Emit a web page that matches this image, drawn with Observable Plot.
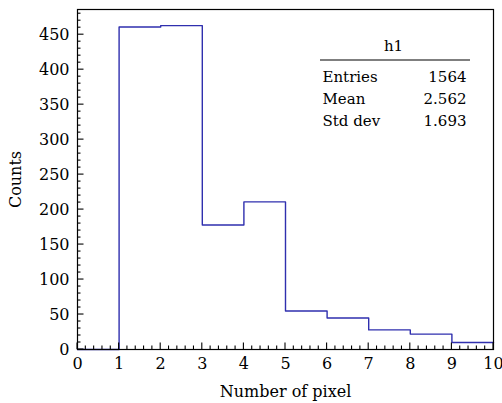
<!DOCTYPE html>
<html>
<head>
<meta charset="utf-8">
<script src="https://cdn.jsdelivr.net/npm/d3@7"></script>
<script src="https://cdn.jsdelivr.net/npm/@observablehq/plot@0.6"></script>
<style>
  html, body { margin: 0; padding: 0; background: #fff; }
  #chart svg { display: block; }
</style>
</head>
<body>
<div id="chart"></div>
<script>
const binEdges = [0, 1, 2, 3, 4, 5, 6, 7, 8, 9, 10];
const binCounts = [0, 461, 463, 178, 211, 55, 45, 28, 22, 10];
const xTicks = [0, 1, 2, 3, 4, 5, 6, 7, 8, 9, 10];
const yTicks = [0, 50, 100, 150, 200, 250, 300, 350, 400, 450];
const statTitle = "h1";
const statNames = ["Entries", "Mean", "Std dev"];
const statValues = ["1564", "2.562", "1.693"];

const stepData = binCounts.map((c, i) => ({x: binEdges[i], y: c}));
stepData.push({x: binEdges[binEdges.length - 1], y: binCounts[binCounts.length - 1]});

const xMinor = d3.range(0, 10.0001, 0.2).filter(v => Math.abs(v - Math.round(v)) > 1e-6);
const yMinor = d3.range(0, 481, 10).filter(v => v % 50 !== 0);
const font = "DejaVu Serif";
const blue = "#2f2fae";

const W = 502, H = 403, mL = 77, mR = 9, mT = 9, mB = 54;
const xDomain = [0, 10], yDomain = [0, 486];

function statMarks() {
  const marks = [];
  marks.push(Plot.text([statTitle], {frameAnchor: "top-right", dx: -100, dy: 37,
    textAnchor: "middle", lineAnchor: "middle", fontSize: 15}));
  statNames.forEach((n, i) => {
    marks.push(Plot.text([n], {frameAnchor: "top-right", dx: -171, dy: 68 + i * 21.7,
      textAnchor: "start", lineAnchor: "middle", fontSize: 15}));
    marks.push(Plot.text([statValues[i]], {frameAnchor: "top-right", dx: -27, dy: 68 + i * 21.7,
      textAnchor: "end", lineAnchor: "middle", fontSize: 15}));
  });
  return marks;
}

const plot = Plot.plot({
  width: W,
  height: H,
  marginLeft: mL,
  marginRight: mR,
  marginTop: mT,
  marginBottom: mB,
  style: {fontFamily: font, fontSize: "16px", background: "#fff"},
  x: {domain: xDomain},
  y: {domain: yDomain},
  marks: [
    Plot.axisX({ticks: xTicks, tickSize: 0, tickPadding: 8, tickFormat: d => String(d),
      label: "Number of pixel", labelAnchor: "center", labelArrow: "none", labelOffset: 47, fontSize: 16}),
    Plot.axisY({ticks: yTicks, tickSize: 0, tickPadding: 8, tickFormat: d => String(d),
      label: "Counts", labelAnchor: "center", labelArrow: "none", labelOffset: 68, fontSize: 16}),
    Plot.line(stepData, {x: "x", y: "y", curve: "step-after", stroke: blue, strokeWidth: 1.4}),
    Plot.frame({stroke: "#000", strokeWidth: 1.2}),
    ...statMarks()
  ]
});

document.getElementById("chart").appendChild(plot);
const svg = d3.select(plot);
const xs = plot.scale("x"), ys = plot.scale("y");
const x0 = xs.apply(xDomain[0]), y0 = ys.apply(yDomain[0]);
const tickG = svg.append("g").attr("stroke", "#000").attr("stroke-width", 1.1);
function xTickLines(values, len) {
  tickG.selectAll(null).data(values).join("line")
    .attr("x1", d => xs.apply(d)).attr("x2", d => xs.apply(d))
    .attr("y1", y0).attr("y2", y0 - len);
}
function yTickLines(values, len) {
  tickG.selectAll(null).data(values).join("line")
    .attr("y1", d => ys.apply(d)).attr("y2", d => ys.apply(d))
    .attr("x1", x0).attr("x2", x0 + len);
}
xTickLines(xMinor, 3.5);
xTickLines(xTicks, 6.5);
yTickLines(yMinor, 3.5);
yTickLines(yTicks, 6.5);
// separator line under the stats title
svg.append("line")
  .attr("x1", 320).attr("x2", 470).attr("y1", 60).attr("y2", 60)
  .attr("stroke", "#000").attr("stroke-width", 1.2);
</script>
</body>
</html>
